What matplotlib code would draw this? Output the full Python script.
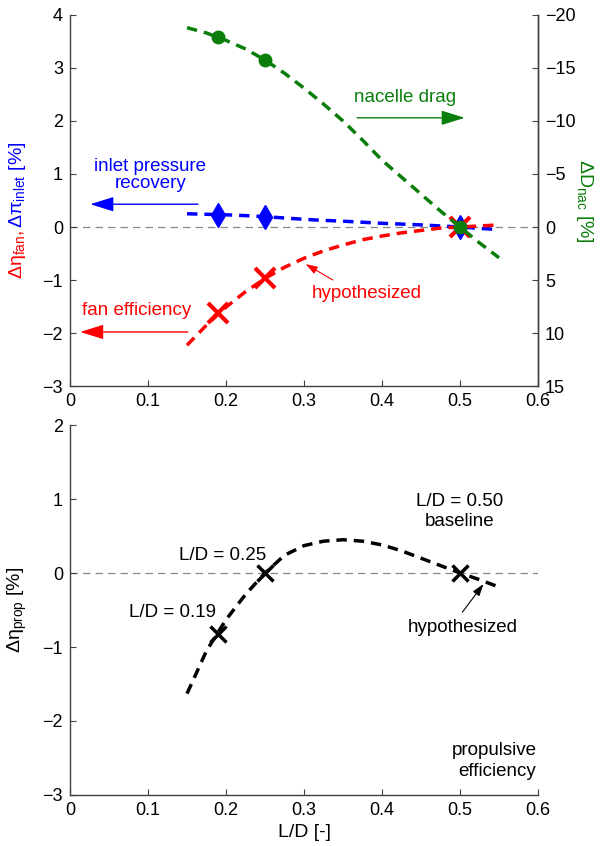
# chart: fan / inlet / nacelle / propulsive efficiency vs L/D
import matplotlib.pyplot as plt

plt.rcParams['font.family'] = ['Liberation Sans', 'DejaVu Sans']
plt.rcParams['mathtext.fontset'] = 'custom'
plt.rcParams['mathtext.rm'] = 'Liberation Sans'
plt.rcParams['mathtext.it'] = 'Liberation Sans:italic'

# dane
ld = [0.15, 0.175, 0.20, 0.225, 0.25, 0.275, 0.30, 0.325, 0.35,
      0.375, 0.40, 0.425, 0.45, 0.475, 0.50, 0.525, 0.55]
fan_eff = [-2.23, -1.85, -1.51, -1.22, -0.97, -0.76, -0.59, -0.45, -0.34,
           -0.24, -0.17, -0.11, -0.065, -0.02, 0.00, 0.02, 0.04]
inlet_rec = [0.25, 0.24, 0.23, 0.215, 0.195, 0.17, 0.145, 0.125, 0.11,
             0.09, 0.07, 0.055, 0.04, 0.02, 0.00, -0.025, -0.05]
nac_drag = [-18.8, -18.3, -17.6, -16.8, -15.75, -14.5, -13.1, -11.6, -10.0,
            -8.2, -6.3, -4.7, -3.1, -1.5, 0.0, 1.5, 2.9]
prop_eff = [-1.63, -1.05, -0.63, -0.29, 0.00, 0.24, 0.37, 0.43, 0.45,
            0.43, 0.38, 0.30, 0.20, 0.10, 0.00, -0.09, -0.19]

ld_pts = [0.19, 0.25, 0.50]
fan_pts = [-1.63, -0.97, 0.00]
inlet_pts = [0.226, 0.195, 0.00]
nac_pts = [-17.95, -15.75, 0.0]
prop_pts = [-0.82, 0.00, 0.00]

x_ticks = [0, 0.1, 0.2, 0.3, 0.4, 0.5, 0.6]
x_labels = ['0', '0.1', '0.2', '0.3', '0.4', '0.5', '0.6']

RED, BLUE, GREEN = '#ff0000', '#0000ff', '#0a7d0a'
DASH = (3, 2)
FS = 13.5

fig = plt.figure(figsize=(6, 8.46), dpi=100)
ax1 = fig.add_axes([0.1167, 0.5437, 0.78, 0.4386])
ax2 = ax1.twinx()
ax3 = fig.add_axes([0.1167, 0.0603, 0.78, 0.4373])


def style(ax, right=False):
    ax.spines['top'].set_visible(False)
    ax.spines['right'].set_visible(right)
    for s in ax.spines.values():
        s.set_color('#404040')
        s.set_linewidth(1)
    ax.tick_params(direction='in', length=4, width=0.8, labelsize=13,
                   color='#404040', pad=5)


def arrow(ax, head, tail, color, small=False):
    if small:
        st, lw, ms = '-|>,head_length=0.6,head_width=0.2', 0.8, 12
    else:
        st, lw, ms = '-|>,head_length=0.8,head_width=0.25', 1, 18
    ax.annotate('', xy=head, xytext=tail,
                arrowprops=dict(arrowstyle=st, color=color, lw=lw,
                                mutation_scale=ms, shrinkA=0, shrinkB=0))


# --- gorny wykres ---
ax1.axhline(0, color='#888888', lw=0.9, ls=(0, (6, 4)), zorder=1)
ax1.plot(ld, inlet_rec, color=BLUE, lw=2.5, dashes=DASH)
ax1.plot(ld_pts, inlet_pts, 'd', color=BLUE, ms=12, ls='none')
ax1.plot(ld, fan_eff, color=RED, lw=2.5, dashes=DASH)
ax1.plot(ld_pts, fan_pts, 'x', color=RED, ms=14, mew=3, ls='none')
ax2.plot(ld, nac_drag, color=GREEN, lw=2.5, dashes=DASH)
ax2.plot(ld_pts, nac_pts, 'o', color=GREEN, ms=9, ls='none')

ax1.set_xlim(0, 0.6)
ax1.set_ylim(-3, 4)
ax2.set_ylim(15, -20)
ax1.set_xticks(x_ticks)
ax1.set_xticklabels(x_labels)
ax1.set_yticks(range(-3, 5))
ax2.set_yticks(range(-20, 16, 5))
style(ax1, right=True)
style(ax2, right=True)
ax2.spines['left'].set_visible(False)
ax2.spines['bottom'].set_visible(False)

ax1.text(-0.112, 0.426, 'Δη$_\\mathregular{fan}$, ', transform=ax1.transAxes,
         rotation=90, ha='center', va='top', color=RED, fontsize=14)
ax1.text(-0.112, 0.426, 'Δπ$_\\mathregular{inlet}$ [%]', transform=ax1.transAxes,
         rotation=90, ha='center', va='bottom', color=BLUE, fontsize=14)
ax2.text(1.10, 0.5, 'ΔD$_\\mathregular{nac}$ [%]', transform=ax2.transAxes,
         rotation=-90, ha='center', va='center', color=GREEN, fontsize=14)

ax1.text(0.103, 0.98, 'inlet pressure\nrecovery', color=BLUE, fontsize=FS,
         ha='center', va='center', linespacing=1.05)
arrow(ax1, (0.026, 0.43), (0.164, 0.43), BLUE)
ax1.text(0.086, -1.57, 'fan efficiency', color=RED, fontsize=FS,
         ha='center', va='center')
arrow(ax1, (0.013, -1.98), (0.151, -1.98), RED)
ax1.text(0.43, 2.45, 'nacelle drag', color=GREEN, fontsize=FS,
         ha='center', va='center')
arrow(ax1, (0.506, 2.06), (0.368, 2.06), GREEN)
ax1.text(0.381, -1.26, 'hypothesized', color=RED, fontsize=FS,
         ha='center', va='center')
arrow(ax1, (0.302, -0.70), (0.337, -1.0), RED, small=True)

# --- dolny wykres ---
ax3.axhline(0, color='#888888', lw=0.9, ls=(0, (6, 4)), zorder=1)
ax3.plot(ld, prop_eff, color='black', lw=2.5, dashes=DASH)
ax3.plot(ld_pts, prop_pts, 'x', color='black', ms=11, mew=2.5, ls='none')
ax3.set_xlim(0, 0.6)
ax3.set_ylim(-3, 2)
ax3.set_xticks(x_ticks)
ax3.set_xticklabels(x_labels)
ax3.set_yticks(range(-3, 3))
style(ax3)
ax3.set_ylabel('Δη$_\\mathregular{prop}$ [%]', fontsize=14)
ax3.yaxis.set_label_coords(-0.088, 0.5)
ax3.set_xlabel('L/D [-]', fontsize=14)
ax3.xaxis.set_label_coords(0.5, -0.078)

ax3.text(0.196, 0.24, 'L/D = 0.25', fontsize=FS, ha='center', va='center')
ax3.text(0.132, -0.54, 'L/D = 0.19', fontsize=FS, ha='center', va='center')
ax3.text(0.50, 0.83, 'L/D = 0.50\nbaseline', fontsize=FS, ha='center',
         va='center', linespacing=1.2)
ax3.text(0.504, -0.74, 'hypothesized', fontsize=FS, ha='center', va='center')
arrow(ax3, (0.530, -0.15), (0.503, -0.53), 'black', small=True)
ax3.text(0.598, -2.54, 'propulsive\nefficiency', fontsize=FS, ha='right',
         va='center', linespacing=1.3)

fig.savefig('out.png', dpi=100)
